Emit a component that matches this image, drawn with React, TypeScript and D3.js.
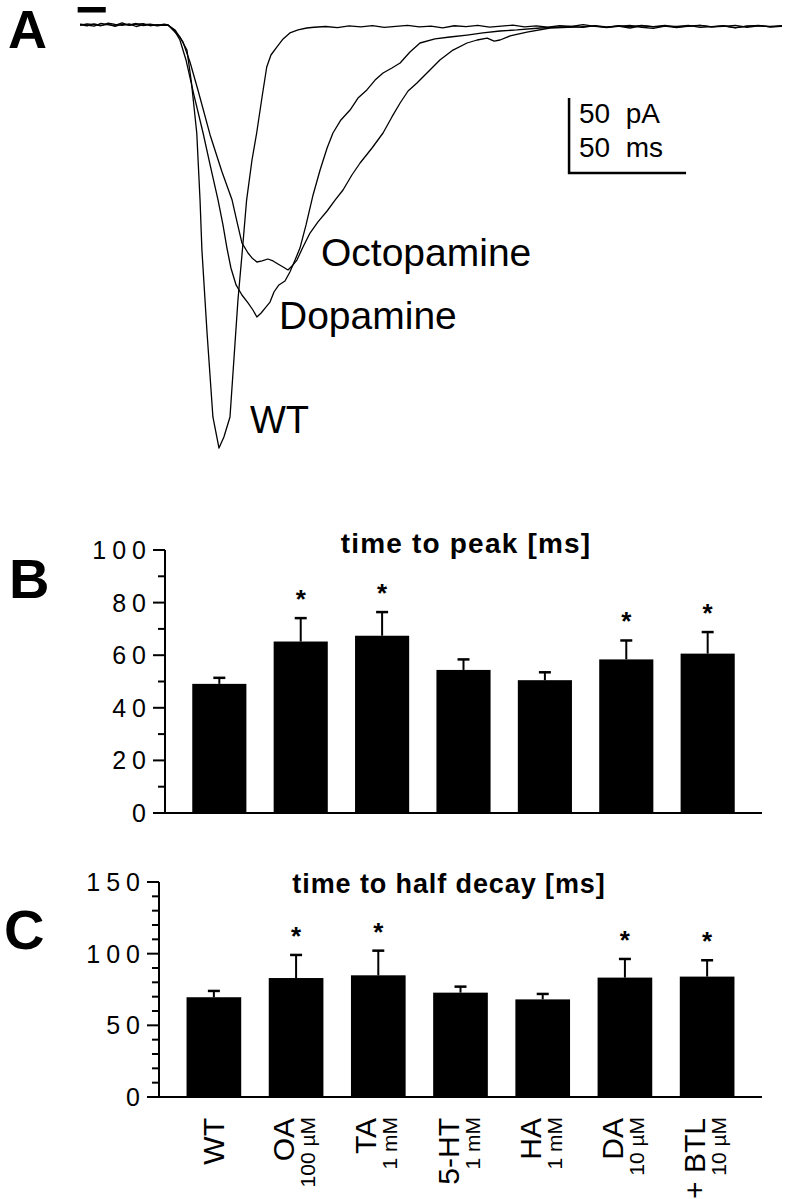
import React from 'react';
import * as d3 from 'd3';

// ---------- Panel A: current traces (time in ms, current in pA) ----------
const wtTrace: [number, number][] = [
  [0, 0.3], [3, -0.5], [6, 0.8], [9, -0.2], [12, 0.4], [15, -0.9], [18, 0.5], [21, 0], [24, 1.0], [27, -0.4], [30, 0.2], [33, -0.6], [36, 0.1],
  [37.6, 0], [42.7, -8], [45.7, -16.7], [47.6, -38], [49.9, -72], [51.3, -116.7], [52.1, -150], [54.3, -205.3], [56.8, -261.3], [59.4, -282],
  [61.5, -274.7], [64.1, -261.3], [67.5, -183.3], [69.4, -150], [71.2, -116.7], [73.5, -90], [75.5, -72], [77.8, -48], [79.8, -28],
  [81.6, -20], [84.1, -14.7], [86.8, -9.3], [89.7, -5.3], [93.2, -3.3], [96.9, -2],
  [100, -1.5], [105, -1.0], [110, -1.8], [115, -0.6], [120, -1.2], [125, -0.4], [130, -1.6], [135, -0.9], [140, -0.2], [145, -1.3],
  [150, -0.7], [155, -1.9], [160, -0.5], [165, -1.1], [170, -0.3], [175, -1.4], [180, -0.8], [185, -0.1], [190, -1.2], [195, -0.6],
  [200, -1.5], [205, -0.4], [210, -1.0], [215, 0.2], [220, -0.9], [225, -1.6], [230, -0.5], [235, -1.1], [240, -0.2], [245, -1.3],
  [250, -0.7], [255, -1.8], [260, -0.6], [265, -0.2], [270, -1.2], [275, -0.9], [280, -0.3], [285, -1.5], [290, -0.6], [295, -1.0], [300, -0.5],
];

const dopamineTrace: [number, number][] = [
  [0, 0.6], [3, 0], [6, -0.7], [9, 1.1], [12, 0.2], [15, -0.3], [18, 1.4], [21, -0.2], [24, 0.5], [27, 0.9], [30, -0.5], [33, 0.3], [36, -0.2],
  [37.6, 0], [40.2, -3.3], [42.7, -10], [45.3, -23.3], [48.7, -46.7], [52.6, -72], [55.6, -93.3], [59.0, -116.7], [61.1, -133.3],
  [62.8, -148.7], [64.5, -162], [66.7, -173.3], [69.2, -180], [71.8, -185.3], [73.9, -190], [75.6, -194.7], [77.4, -192], [79.1, -188.7],
  [81.2, -184.7], [82.9, -178], [85.0, -173.3], [87.6, -170.7], [89.7, -164.7], [91.9, -156.7], [94.0, -148.7], [96.6, -133.3],
  [99.6, -113.3], [102.6, -96.7], [105.6, -82], [108.1, -72], [111.5, -63.3], [115.4, -56.7], [118.8, -48.7], [122.6, -43.3],
  [126.1, -36.7], [129.5, -32], [133.3, -28.7], [136.8, -25.3], [141.0, -18], [145.3, -12], [151.7, -9.3], [158.1, -8], [165.4, -6.7],
  [172.2, -5.3], [179.5, -4], [186.8, -3.3], [196.6, -2], [205.1, -1.3],
  [210, -1.0], [215, -1.6], [220, -0.4], [225, -1.2], [230, -0.8], [235, -2.0], [240, -0.5], [245, -1.1], [250, -0.3], [255, -1.4],
  [260, -0.9], [265, -0.2], [270, -1.3], [275, -0.6], [280, -1.7], [285, -0.8], [290, -0.4], [295, -1.2], [300, -0.7],
];

const octopamineTrace: [number, number][] = [
  [0, -0.2], [3, 0.7], [6, 0.3], [9, -0.5], [12, 1.3], [15, 0.4], [18, -0.2], [21, 0.8], [24, -1.0], [27, 0.3], [30, 0.6], [33, -0.3], [36, 0.5],
  [37.6, 0], [40.6, -3.3], [44.0, -11.3], [47.0, -24.7], [50.4, -43.3], [55.6, -73.3], [60.7, -98], [65.0, -116.7], [67.1, -131.3],
  [69.2, -145.3], [71.8, -152], [73.5, -155.3], [75.6, -158], [77.8, -157.3], [80.3, -156], [82.5, -157.3], [84.6, -159.3],
  [86.8, -161.3], [88.9, -163.3], [90.6, -160.7], [92.7, -156.7], [95.3, -148], [98.3, -138.7], [101.7, -131.3], [105.6, -124],
  [109.0, -116.7], [112.4, -110], [116.2, -100], [119.7, -92], [124.8, -82], [129.5, -72], [133.3, -61.3], [136.8, -52], [140.2, -44],
  [144.0, -38.7], [148.7, -31.3], [153.8, -23.3], [159.4, -16.7], [165.4, -12], [169.7, -10], [174.0, -8.7], [177.0, -10.7],
  [179.5, -10], [183.8, -7.3], [191.0, -4.7], [200.9, -2], [213.7, -1.3],
  [220, -0.6], [225, -1.8], [230, -0.9], [235, -0.3], [240, -1.5], [245, -2.2], [250, -0.7], [255, -1.0], [260, -0.2], [265, -1.6],
  [270, -1.1], [275, -0.5], [280, -1.9], [285, -0.8], [290, -0.3], [295, -1.2], [300, -0.9],
];

const traceLabels = ['Octopamine', 'Dopamine', 'WT'];
const stimulusWindow = [-1, 11]; // ms
const scaleBarCorner = [209, -98.7]; // ms, pA
const scaleBarSize = [50, 50]; // ms, pA

// ---------- Panels B & C: bar data ----------
const categories = ['WT', 'OA', 'TA', '5-HT', 'HA', 'DA', '+ BTL'];
const concentrations = ['', '100 µM', '1 mM', '1 mM', '1 mM', '10 µM', '10 µM'];

const timeToPeak = [49.1, 65.2, 67.4, 54.4, 50.5, 58.4, 60.6];
const timeToPeakErr = [2.3, 8.9, 9.0, 4.0, 3.0, 7.2, 8.2];
const timeToPeakSig = [false, true, true, false, false, true, true];
const peakMajorTicks = [0, 20, 40, 60, 80, 100];
const peakMinorTicks = [10, 30, 50, 70, 90];

const halfDecay = [69.6, 83.0, 84.9, 72.8, 68.1, 83.3, 84.0];
const halfDecayErr = [4.4, 16.1, 17.2, 4.2, 3.8, 13.0, 11.4];
const halfDecaySig = [false, true, true, false, false, true, true];
const decayMajorTicks = [0, 50, 100, 150];
const decayMinorTicks = [10, 20, 30, 40, 60, 70, 80, 90, 110, 120, 130, 140];

const FONT = '"Liberation Sans", Arial, Helvetica, sans-serif';

type BarPanelProps = {
  axisX: number; right: number; y0: number; yTop: number; max: number;
  values: number[]; errs: number[]; sig: boolean[];
  major: number[]; minor: number[]; title: string; titleX: number; titleY: number;
  titleSize: number; titleSpacing: number;
  letter: string; letterX: number; letterY: number; showX?: boolean;
};

function BarPanel(p: BarPanelProps) {
  const x = d3.scaleBand<string>().domain(categories).range([p.axisX, p.right]).paddingInner(0.335).paddingOuter(0.335);
  const y = d3.scaleLinear().domain([0, p.max]).range([p.y0, p.yTop]);
  const bw = x.bandwidth();
  return (
    <g>
      <text x={p.letterX} y={p.letterY} fontSize={56} fontWeight="bold" fontFamily={FONT}>{p.letter}</text>
      <text x={p.titleX} y={p.titleY} fontSize={p.titleSize} fontWeight="bold" fontFamily={FONT} textAnchor="middle" letterSpacing={p.titleSpacing}>{p.title}</text>
      {/* axis */}
      <line x1={p.axisX} x2={p.axisX} y1={y(p.max)} y2={y(0)} stroke="#000" strokeWidth={2} />
      <line x1={p.axisX - 12} x2={p.right} y1={y(0)} y2={y(0)} stroke="#000" strokeWidth={2} />
      {p.major.map((t) => (
        <g key={'M' + t}>
          <line x1={p.axisX - 12} x2={p.axisX} y1={y(t)} y2={y(t)} stroke="#000" strokeWidth={2} />
          <text x={p.axisX - 13} y={y(t)} dy="0.36em" fontSize={25} fontFamily={FONT} textAnchor="end" letterSpacing={6}>{t}</text>
        </g>
      ))}
      {p.minor.map((t) => (
        <line key={'m' + t} x1={p.axisX - 7} x2={p.axisX} y1={y(t)} y2={y(t)} stroke="#000" strokeWidth={2} />
      ))}
      {categories.map((c, i) => {
        const bx = x(c)!;
        const cx = bx + bw / 2;
        const top = y(p.values[i] + p.errs[i]);
        return (
          <g key={c}>
            <rect x={bx} y={y(p.values[i])} width={bw} height={y(0) - y(p.values[i])} fill="#000" />
            <line x1={cx} x2={cx} y1={y(p.values[i])} y2={top} stroke="#000" strokeWidth={2} />
            <line x1={cx - 6} x2={cx + 6} y1={top} y2={top} stroke="#000" strokeWidth={2.5} />
            {p.sig[i] && (
              <text x={cx} y={top - 10} fontSize={26} fontWeight="bold" fontFamily={FONT} textAnchor="middle">*</text>
            )}
            {p.showX && (
              <g>
                <text transform={`translate(${concentrations[i] ? cx - 2 : cx + 10},1118) rotate(-90)`} fontSize={30} fontFamily={FONT} textAnchor="end" style={{ whiteSpace: 'pre' }}>{c}</text>
                {concentrations[i] && (
                  <text transform={`translate(${cx + 19},1117) rotate(-90)`} fontSize={21} fontFamily={FONT} textAnchor="end">{concentrations[i]}</text>
                )}
              </g>
            )}
          </g>
        );
      })}
    </g>
  );
}

export default function App() {
  const xT = d3.scaleLinear().domain([0, 300]).range([80, 782]);
  const yI = d3.scaleLinear().domain([0, -300]).range([25, 475]);
  const line = d3.line<[number, number]>().x((d) => xT(d[0])).y((d) => yI(d[1])).curve(d3.curveLinear);
  const [sbT, sbI] = scaleBarCorner;
  return (
    <div style={{ position: 'absolute', left: 0, top: 0 }}>
      <svg width={792} height={1199} viewBox="0 0 792 1199" style={{ display: 'block', background: '#fff' }}>
        <rect x={0} y={0} width={792} height={1199} fill="#fff" />
        {/* Panel A */}
        <text x={8} y={48} fontSize={54} fontWeight="bold" fontFamily={FONT}>A</text>
        <rect x={xT(stimulusWindow[0])} y={7} width={xT(stimulusWindow[1]) - xT(stimulusWindow[0])} height={5.5} fill="#000" />
        {[wtTrace, dopamineTrace, octopamineTrace].map((tr, i) => (
          <path key={i} d={line(tr) || ''} fill="none" stroke="#000" strokeWidth={1.3} strokeLinejoin="round" />
        ))}
        <text x={321} y={266} fontSize={39} fontFamily={FONT}>{traceLabels[0]}</text>
        <text x={279} y={329} fontSize={39} fontFamily={FONT}>{traceLabels[1]}</text>
        <text x={250} y={433} fontSize={38} fontFamily={FONT}>{traceLabels[2]}</text>
        {/* scale bar */}
        <path
          d={`M${xT(sbT)},${yI(sbI + scaleBarSize[1])} L${xT(sbT)},${yI(sbI)} L${xT(sbT + scaleBarSize[0])},${yI(sbI)}`}
          fill="none" stroke="#000" strokeWidth={2.5}
        />
        <text x={579} y={123} fontSize={28} fontFamily={FONT} style={{ whiteSpace: 'pre' }}>{`${scaleBarSize[1]}  pA`}</text>
        <text x={579} y={157} fontSize={28} fontFamily={FONT} style={{ whiteSpace: 'pre' }}>{`${scaleBarSize[0]}  ms`}</text>

        {/* Panel B */}
        <BarPanel axisX={165} right={762} y0={813} yTop={550} max={100}
          values={timeToPeak} errs={timeToPeakErr} sig={timeToPeakSig}
          major={peakMajorTicks} minor={peakMinorTicks}
          title="time to peak [ms]" titleX={466} titleY={553} titleSize={28} titleSpacing={1.2}
          letter="B" letterX={9} letterY={598} />
        {/* Panel C */}
        <BarPanel axisX={159} right={762} y0={1097} yTop={882} max={150}
          values={halfDecay} errs={halfDecayErr} sig={halfDecaySig}
          major={decayMajorTicks} minor={decayMinorTicks}
          title="time to half decay [ms]" titleX={449} titleY={893} titleSize={27} titleSpacing={0.9}
          letter="C" letterX={4} letterY={949} showX />
      </svg>
    </div>
  );
}
